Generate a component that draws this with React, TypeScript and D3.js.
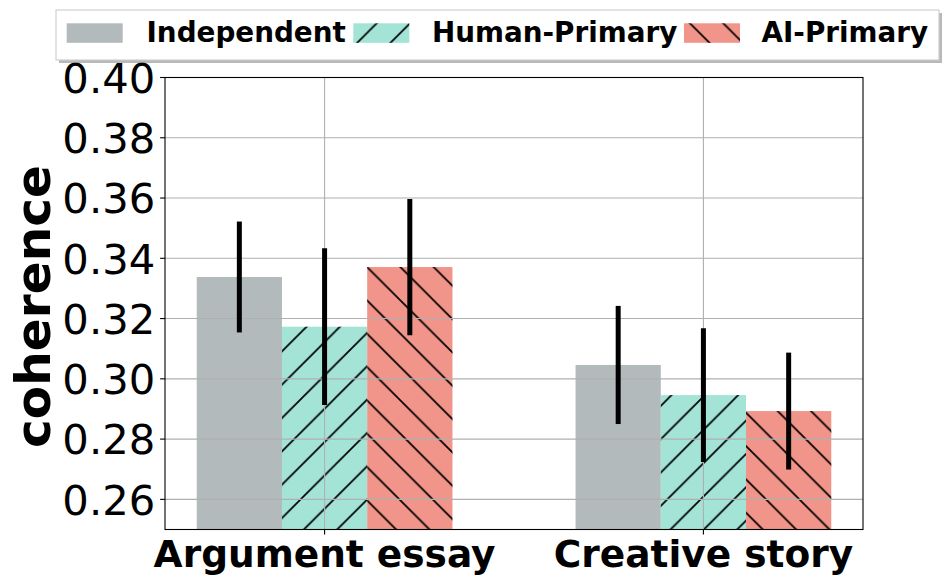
import React, { useEffect } from "react";
import * as d3 from "d3";

const categories = ["Argument essay", "Creative story"];
const series = ["Independent", "Human-Primary", "AI-Primary"];
const independentMean = [0.3338, 0.3046];
const independentErr = [0.0184, 0.0196];
const humanMean = [0.3173, 0.2946];
const humanErr = [0.026, 0.0222];
const aiMean = [0.3371, 0.2893];
const aiErr = [0.0226, 0.0194];
const yTicks = [0.26, 0.28, 0.3, 0.32, 0.34, 0.36, 0.38, 0.4];
const colors = ["#b2babb", "#a3e4d7", "#f1948a"];
const hatches = ["", "fwd", "back"];

const W = 949;
const H = 586;
const FONT = "'DejaVu Sans', sans-serif";

export default function App() {
  useEffect(() => {
    document.body.style.margin = "0";
  }, []);

  const means = [independentMean, humanMean, aiMean];
  const errs = [independentErr, humanErr, aiErr];
  const barW = 0.225;

  const x = d3.scaleLinear().domain([-0.42125, 1.42125]).range([165, 863]);
  const y = d3.scaleLinear().domain([0.25, 0.4]).range([529.5, 77.5]);
  const left = 165, right = 863, top = 77.5, bottom = 529.5;
  const T = 100 / 3;

  const legendPatchX = [66.7, 353.3, 684];
  const legendTextX = [146.5, 432, 761.5];

  return (
    <svg
      width={W}
      height={H}
      style={{ position: "absolute", left: 0, top: 0, display: "block" }}
      fontFamily={FONT}
    >
      <defs>
        <pattern id="fwd" patternUnits="userSpaceOnUse" width={T} height={T}>
          <path
            d={`M${-2},${2} L${2},${-2} M${-2},${T + 2} L${T + 2},${-2} M${T - 2},${T + 2} L${T + 2},${T - 2}`}
            stroke="#000"
            strokeWidth={1.7}
          />
        </pattern>
        <pattern id="back" patternUnits="userSpaceOnUse" width={T} height={T}>
          <path
            d={`M${-2},${-2} L${T + 2},${T + 2} M${T - 2},${-2} L${T + 2},${2} M${-2},${T - 2} L${2},${T + 2}`}
            stroke="#000"
            strokeWidth={1.7}
          />
        </pattern>
      </defs>
      <rect x={0} y={0} width={W} height={H} fill="#fff" />

      {/* bars */}
      {series.map((s, si) =>
        categories.map((c, ci) => {
          const cx = ci + (si - 1) * barW;
          const x0 = x(cx - barW / 2);
          const x1 = x(cx + barW / 2);
          const yt = y(means[si][ci]);
          return (
            <g key={s + c}>
              <rect x={x0} y={yt} width={x1 - x0} height={bottom - yt} fill={colors[si]} />
              {hatches[si] && (
                <rect x={x0} y={yt} width={x1 - x0} height={bottom - yt} fill={`url(#${hatches[si]})`} />
              )}
            </g>
          );
        })
      )}

      {/* grid */}
      {yTicks.map((t) => (
        <line key={"gy" + t} x1={left} x2={right} y1={y(t)} y2={y(t)} stroke="#b0b0b0" strokeWidth={1.1} />
      ))}
      {categories.map((c, ci) => (
        <line key={"gx" + c} x1={x(ci)} x2={x(ci)} y1={top} y2={bottom} stroke="#b0b0b0" strokeWidth={1.1} />
      ))}

      {/* error bars */}
      {series.map((s, si) =>
        categories.map((c, ci) => {
          const cx = x(ci + (si - 1) * barW);
          return (
            <line
              key={"e" + s + c}
              x1={cx}
              x2={cx}
              y1={y(means[si][ci] + errs[si][ci])}
              y2={y(means[si][ci] - errs[si][ci])}
              stroke="#000"
              strokeWidth={5}
            />
          );
        })
      )}

      {/* spines */}
      <rect x={left} y={top} width={right - left} height={bottom - top} fill="none" stroke="#000" strokeWidth={1.1} />

      {/* y ticks */}
      {yTicks.map((t) => (
        <g key={"yt" + t}>
          <line x1={left - 4.9} x2={left} y1={y(t)} y2={y(t)} stroke="#000" strokeWidth={1.1} />
          <text x={left - 9.8} y={y(t)} dy="0.365em" textAnchor="end" fontSize={41.7} fill="#000">
            {t.toFixed(2)}
          </text>
        </g>
      ))}

      {/* x ticks */}
      {categories.map((c, ci) => (
        <g key={"xt" + c}>
          <line x1={x(ci)} x2={x(ci)} y1={bottom} y2={bottom + 4.9} stroke="#000" strokeWidth={1.1} />
          <text x={x(ci)} y={566.7} textAnchor="middle" fontSize={37.5} fontWeight="bold" fill="#000">
            {c}
          </text>
        </g>
      ))}

      {/* y label */}
      <text
        transform={`translate(50, ${(top + bottom) / 2 + 3}) rotate(-90)`}
        textAnchor="middle"
        fontSize={48.6}
        fontWeight="bold"
        fill="#000"
      >
        coherence
      </text>

      {/* legend */}
      <rect x={59} y={13} width={883} height={50} fill="#808080" opacity={0.55} />
      <rect x={56} y={10} width={883} height={50} fill="#fff" stroke="#cccccc" strokeWidth={1.1} />
      {series.map((s, si) => (
        <g key={"lg" + s}>
          <rect x={legendPatchX[si]} y={23.3} width={56} height={19.5} fill={colors[si]} />
          {hatches[si] && (
            <rect x={legendPatchX[si]} y={23.3} width={56} height={19.5} fill={`url(#${hatches[si]})`} />
          )}
          <text x={legendTextX[si]} y={41.5} fontSize={27.8} fontWeight="bold" fill="#000">
            {s}
          </text>
        </g>
      ))}
    </svg>
  );
}
